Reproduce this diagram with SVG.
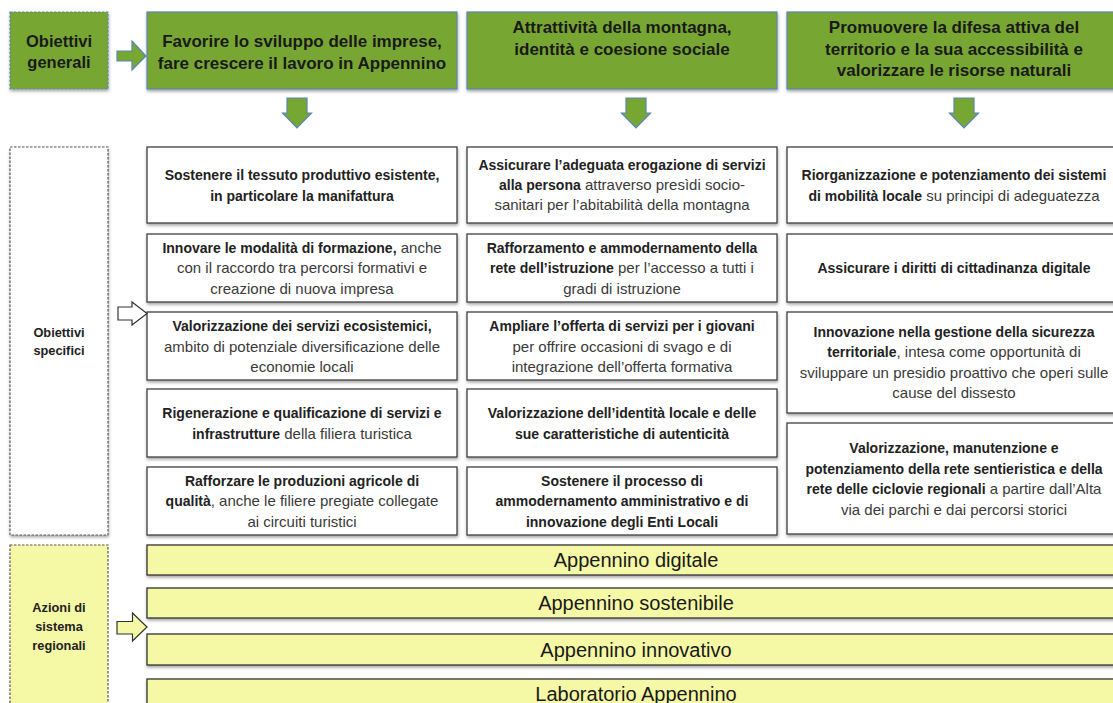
<svg xmlns="http://www.w3.org/2000/svg" width="1113" height="703" viewBox="0 0 1113 703">
<defs>
<filter id="sh" x="-5%" y="-20%" width="110%" height="150%">
<feDropShadow dx="0.5" dy="2" stdDeviation="1.4" flood-color="#000" flood-opacity="0.35"/>
</filter>
<style>
text{font-family:"Liberation Sans",Arial,sans-serif}
.hdr{fill:#77a733;stroke:#5b85b5;stroke-width:1.2}
.box{fill:#ffffff;stroke:#404040;stroke-width:1.3}
.bar{fill:#f5f8a4;stroke:#333333;stroke-width:1.3}
.dash{stroke-dasharray:2.5 1.5;stroke-width:1.2}
.ht{font-size:17px;font-weight:bold;fill:#1a1a1a;text-anchor:middle}
.lt{font-size:12.8px;font-weight:bold;fill:#222;text-anchor:middle}
.t{text-anchor:middle}
.b{font-size:14px;font-weight:bold;fill:#222}
.r{font-size:15px;font-weight:normal;fill:#3a3a3a}
.bt{font-size:20px;fill:#1a1a1a;text-anchor:middle}
.ga{fill:#77a733;stroke:#5b85b5;stroke-width:1.2}
</style>
</defs>
<rect width="1113" height="703" fill="#ffffff"/>

<!-- Left labels -->
<g id="obiettivi-generali">
<rect x="10" y="12" width="98" height="77" class="hdr dash" filter="url(#sh)"/>
<text class="ht" style="font-size:16.5px"><tspan x="59" y="47">Obiettivi</tspan><tspan x="59" y="68">generali</tspan></text>
</g>
<g id="obiettivi-specifici">
<rect x="10" y="147" width="98" height="388" fill="#ffffff" stroke="#555" class="dash" filter="url(#sh)"/>
<text class="lt"><tspan x="59" y="337">Obiettivi</tspan><tspan x="59" y="355">specifici</tspan></text>
</g>
<g id="azioni-sistema">
<rect x="10" y="545" width="98" height="175" fill="#f5f8a4" stroke="#555" class="dash"/>
<text class="lt"><tspan x="59" y="612">Azioni di</tspan><tspan x="59" y="631">sistema</tspan><tspan x="59" y="650">regionali</tspan></text>
</g>

<!-- Header boxes -->
<g id="og1">
<rect x="147" y="12" width="310" height="77" class="hdr" filter="url(#sh)"/>
<text class="ht"><tspan x="302" y="47">Favorire lo sviluppo delle imprese,</tspan><tspan x="302" y="68.5">fare crescere il lavoro in Appennino</tspan></text>
</g>
<g id="og2">
<rect x="467" y="12" width="310" height="77" class="hdr" filter="url(#sh)"/>
<text class="ht"><tspan x="622" y="33">Attrattività della montagna,</tspan><tspan x="622" y="55">identità e coesione sociale</tspan></text>
</g>
<g id="og3">
<rect x="787" y="12" width="335" height="77" class="hdr" filter="url(#sh)"/>
<text class="ht"><tspan x="954" y="33">Promuovere la difesa attiva del</tspan><tspan x="954" y="54.5">territorio e la sua accessibilità e</tspan><tspan x="954" y="76">valorizzare le risorse naturali</tspan></text>
</g>

<!-- Column 1 -->
<g id="c1r1">
<rect x="147" y="147" width="310" height="76" class="box" filter="url(#sh)"/>
<text class="t" x="302" y="180"><tspan class="b">Sostenere il tessuto produttivo esistente,</tspan></text>
<text class="t" x="302" y="200.5"><tspan class="b">in particolare la manifattura</tspan></text>
</g>
<g id="c1r2">
<rect x="147" y="234" width="310" height="68" class="box" filter="url(#sh)"/>
<text class="t" x="302" y="252.5"><tspan class="b">Innovare le modalità di formazione,</tspan><tspan class="r"> anche</tspan></text>
<text class="t" x="302" y="273"><tspan class="r">con il raccordo tra percorsi formativi e</tspan></text>
<text class="t" x="302" y="293.5"><tspan class="r">creazione di nuova impresa</tspan></text>
</g>
<g id="c1r3">
<rect x="147" y="312" width="310" height="68" class="box" filter="url(#sh)"/>
<text class="t" x="302" y="331"><tspan class="b">Valorizzazione dei servizi ecosistemici,</tspan></text>
<text class="t" x="302" y="351.5"><tspan class="r">ambito di potenziale diversificazione delle</tspan></text>
<text class="t" x="302" y="372"><tspan class="r">economie locali</tspan></text>
</g>
<g id="c1r4">
<rect x="147" y="389" width="310" height="68" class="box" filter="url(#sh)"/>
<text class="t" x="302" y="418"><tspan class="b">Rigenerazione e qualificazione di servizi e</tspan></text>
<text class="t" x="302" y="438.5"><tspan class="b">infrastrutture</tspan><tspan class="r"> della filiera turistica</tspan></text>
</g>
<g id="c1r5">
<rect x="147" y="467" width="310" height="68" class="box" filter="url(#sh)"/>
<text class="t" x="302" y="486"><tspan class="b">Rafforzare le produzioni agricole di</tspan></text>
<text class="t" x="302" y="506"><tspan class="b">qualità</tspan><tspan class="r">, anche le filiere pregiate collegate</tspan></text>
<text class="t" x="302" y="526.5"><tspan class="r">ai circuiti turistici</tspan></text>
</g>

<!-- Column 2 -->
<g id="c2r1">
<rect x="467" y="147" width="310" height="76" class="box" filter="url(#sh)"/>
<text class="t" x="622" y="170"><tspan class="b">Assicurare l’adeguata erogazione di servizi</tspan></text>
<text class="t" x="622" y="190"><tspan class="b">alla persona</tspan><tspan class="r"> attraverso presìdi socio-</tspan></text>
<text class="t" x="622" y="210"><tspan class="r">sanitari per l’abitabilità della montagna</tspan></text>
</g>
<g id="c2r2">
<rect x="467" y="234" width="310" height="68" class="box" filter="url(#sh)"/>
<text class="t" x="622" y="252.5"><tspan class="b">Rafforzamento e ammodernamento della</tspan></text>
<text class="t" x="622" y="273"><tspan class="b">rete dell’istruzione</tspan><tspan class="r"> per l’accesso a tutti i</tspan></text>
<text class="t" x="622" y="293.5"><tspan class="r">gradi di istruzione</tspan></text>
</g>
<g id="c2r3">
<rect x="467" y="312" width="310" height="68" class="box" filter="url(#sh)"/>
<text class="t" x="622" y="331"><tspan class="b">Ampliare l’offerta di servizi per i giovani</tspan></text>
<text class="t" x="622" y="351.5"><tspan class="r">per offrire occasioni di svago e di</tspan></text>
<text class="t" x="622" y="372"><tspan class="r">integrazione dell’offerta formativa</tspan></text>
</g>
<g id="c2r4">
<rect x="467" y="389" width="310" height="68" class="box" filter="url(#sh)"/>
<text class="t" x="622" y="418"><tspan class="b">Valorizzazione dell’identità locale e delle</tspan></text>
<text class="t" x="622" y="438.5"><tspan class="b">sue caratteristiche di autenticità</tspan></text>
</g>
<g id="c2r5">
<rect x="467" y="467" width="310" height="68" class="box" filter="url(#sh)"/>
<text class="t" x="622" y="486"><tspan class="b">Sostenere il processo di</tspan></text>
<text class="t" x="622" y="506"><tspan class="b">ammodernamento amministrativo e di</tspan></text>
<text class="t" x="622" y="526.5"><tspan class="b">innovazione degli Enti Locali</tspan></text>
</g>

<!-- Column 3 -->
<g id="c3r1">
<rect x="787" y="147" width="335" height="76" class="box" filter="url(#sh)"/>
<text class="t" x="954" y="180"><tspan class="b">Riorganizzazione e potenziamento dei sistemi</tspan></text>
<text class="t" x="954" y="200.5"><tspan class="b">di mobilità locale</tspan><tspan class="r"> su principi di adeguatezza</tspan></text>
</g>
<g id="c3r2">
<rect x="787" y="234" width="335" height="68" class="box" filter="url(#sh)"/>
<text class="t" x="954" y="273"><tspan class="b">Assicurare i diritti di cittadinanza digitale</tspan></text>
</g>
<g id="c3r3">
<rect x="787" y="312" width="335" height="101" class="box" filter="url(#sh)"/>
<text class="t" x="954" y="336.5"><tspan class="b">Innovazione nella gestione della sicurezza</tspan></text>
<text class="t" x="954" y="357"><tspan class="b">territoriale</tspan><tspan class="r">, intesa come opportunità di</tspan></text>
<text class="t" x="954" y="377.5"><tspan class="r">sviluppare un presidio proattivo che operi sulle</tspan></text>
<text class="t" x="954" y="398"><tspan class="r">cause del dissesto</tspan></text>
</g>
<g id="c3r4">
<rect x="787" y="423" width="335" height="111" class="box" filter="url(#sh)"/>
<text class="t" x="954" y="453"><tspan class="b">Valorizzazione, manutenzione e</tspan></text>
<text class="t" x="954" y="473.5"><tspan class="b">potenziamento della rete sentieristica e della</tspan></text>
<text class="t" x="954" y="494"><tspan class="b">rete delle ciclovie regionali</tspan><tspan class="r"> a partire dall’Alta</tspan></text>
<text class="t" x="954" y="514.5"><tspan class="r">via dei parchi e dai percorsi storici</tspan></text>
</g>

<!-- Bars -->
<g id="bar-digitale">
<rect x="147" y="545" width="985" height="30" class="bar" filter="url(#sh)"/>
<text class="bt" x="636" y="567">Appennino digitale</text>
</g>
<g id="bar-sostenibile">
<rect x="147" y="588" width="985" height="30" class="bar" filter="url(#sh)"/>
<text class="bt" x="636" y="610">Appennino sostenibile</text>
</g>
<g id="bar-innovativo">
<rect x="147" y="634" width="985" height="31" class="bar" filter="url(#sh)"/>
<text class="bt" x="636" y="656.5">Appennino innovativo</text>
</g>
<g id="bar-laboratorio">
<rect x="147" y="679" width="985" height="31" class="bar" filter="url(#sh)"/>
<text class="bt" x="636" y="701">Laboratorio Appennino</text>
</g>

<!-- Connectors (block arrows) -->
<g id="connectors">
<polygon class="ga" points="117,51 132,51 132,41 146,56 132,70 132,61 117,61"/>
<polygon class="ga" points="287,98 307,98 307,113 311.5,113 297,128 282.5,113 287,113"/>
<polygon class="ga" points="626,98 646,98 646,113 650.5,113 636,128 621.5,113 626,113"/>
<polygon class="ga" points="954,98 974,98 974,113 978.5,113 964,128 949.5,113 954,113"/>
<polygon fill="#ffffff" stroke="#333" stroke-width="1.2" points="118,307 132,307 132,302 147,313.5 132,325 132,320 118,320"/>
<polygon fill="#f5f8a4" stroke="#333" stroke-width="1.2" points="117,621.5 132.5,621.5 132.5,613 147,627 132.5,641 132.5,634 117,634"/>
</g>
</svg>
